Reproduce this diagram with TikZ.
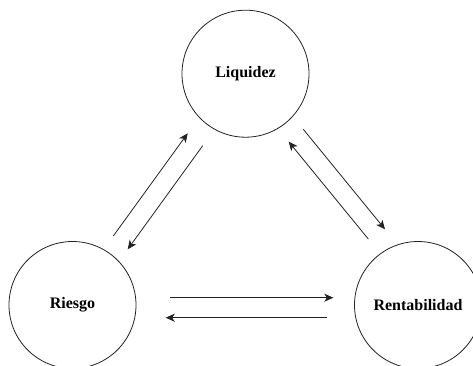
\documentclass[tikz,border=0pt]{standalone}
\usepackage{fontspec}
\setmainfont{Liberation Serif}
\usetikzlibrary{arrows.meta, calc}
\definecolor{inkgray}{HTML}{222222}

\begin{document}
\begin{tikzpicture}[x=1pt, y=-1pt, >={Stealth[length=9pt, width=8pt, inset=2.5pt]}]

% ============================================================
% Frame: 473 x 365, y grows downwards
% ============================================================
\useasboundingbox (0,0) rectangle (473,365);

\tikzset{
  factor/.style={circle, draw=inkgray, line width=0.8pt, minimum size=127pt,
    inner sep=0pt, font=\fontsize{16}{18}\selectfont\bfseries},
  flow/.style={->, inkgray, line width=0.8pt}
}

% Circles
\node[factor] (liq) at (245.5,73.7) {Liquidez};
\node[factor] (riesgo) at (72.5,305) {Riesgo};
\node[factor] (rent) at (418,305) {Rentabilidad};

% Arrow ends (parallel pairs between circles)
\coordinate (rl1) at (113.3,236);
\coordinate (rl2) at (187.7,133.3);
\coordinate (lr1) at (202.7,145.7);
\coordinate (lr2) at (127.7,249.3);

\coordinate (lt1) at (303.3,129.3);
\coordinate (lt2) at (385,229.3);
\coordinate (tl1) at (368.3,239);
\coordinate (tl2) at (288.7,141.7);

\coordinate (rt1) at (170,297.7);
\coordinate (rt2) at (333.3,297.7);
\coordinate (tr1) at (326.7,317.7);
\coordinate (tr2) at (165.7,317.7);

% Riesgo <-> Liquidez
\draw[flow] (rl1) -- (rl2);
\draw[flow] (lr1) -- (lr2);

% Liquidez <-> Rentabilidad
\draw[flow] (lt1) -- (lt2);
\draw[flow] (tl1) -- (tl2);

% Riesgo <-> Rentabilidad
\draw[flow] (rt1) -- (rt2);
\draw[flow] (tr1) -- (tr2);

\end{tikzpicture}
\end{document}
